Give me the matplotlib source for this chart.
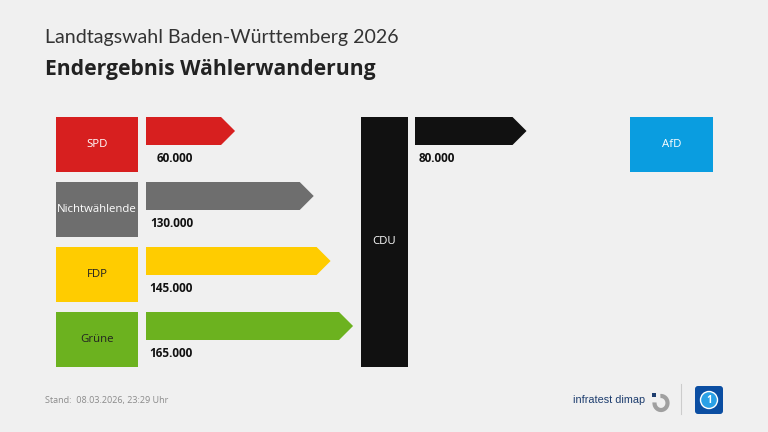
import matplotlib.pyplot as plt
from matplotlib.patches import Rectangle, Polygon, FancyBboxPatch, Arc, Circle

# Daten
quellen = ['SPD', 'Nichtwählende', 'FDP', 'Grüne']
werte = [60000, 130000, 145000, 165000]
farben = ['#d71f1f', '#6e6e6e', '#ffcc00', '#6cb21f']
textfarben = ['white', 'white', '#222222', '#222222']
wert_labels = ['60.000', '130.000', '145.000', '165.000']

ziel = 'CDU'
ziel2 = 'AfD'
wert_cdu_afd = 80000
label_cdu_afd = '80.000'

titel = 'Landtagswahl Baden-Württemberg 2026'
untertitel = 'Endergebnis Wählerwanderung'
stand = 'Stand:  08.03.2026, 23:29 Uhr'

plt.rcParams['font.family'] = ['Open Sans', 'DejaVu Sans']

BG = '#f0f0f0'
fig = plt.figure(figsize=(7.68, 4.32), dpi=100, facecolor=BG)
ax = fig.add_axes([0, 0, 1, 1])
ax.set_xlim(0, 768)
ax.set_ylim(432, 0)
ax.axis('off')
ax.set_facecolor(BG)


# Pfeillänge aus Wert (Pixel)
def pfeil_laenge(v):
    return 21.6 + 1.124 * v / 1000


def pfeil(x0, y0, laenge, hoehe, farbe, kopf=14):
    pts = [(x0, y0), (x0 + laenge - kopf, y0), (x0 + laenge, y0 + hoehe / 2),
           (x0 + laenge - kopf, y0 + hoehe), (x0, y0 + hoehe)]
    ax.add_patch(Polygon(pts, closed=True, facecolor=farbe, edgecolor='none'))


# Titel
ax.text(45, 37, titel, fontsize=14.1, color='#333333', va='center', ha='left',
        family=['Lato', 'DejaVu Sans'])
ax.text(45, 70, untertitel, fontsize=15.2, fontweight='bold', color='#222222',
        va='center', ha='left')

# Quellen links
box_x, box_w, box_h = 56, 82, 55
for i, (name, v, c, tc, lab) in enumerate(zip(quellen, werte, farben, textfarben, wert_labels)):
    y0 = 117 + i * 65
    ax.add_patch(Rectangle((box_x, y0), box_w, box_h, facecolor=c, edgecolor='none'))
    ax.text(box_x + box_w / 2, y0 + box_h / 2, name, fontsize=8.2, color=tc,
            ha='center', va='center')
    pfeil(146, y0, pfeil_laenge(v), 28, c)
    ax.text(193, y0 + 41.5, lab, fontsize=8.5, fontweight='bold', color='#111111',
            ha='right', va='center')

# CDU Balken
ax.add_patch(Rectangle((361, 117), 47, 250, facecolor='#111111', edgecolor='none'))
ax.text(384.5, 242, ziel, fontsize=8.2, color='white', ha='center', va='center')

# CDU -> AfD
pfeil(415, 117, pfeil_laenge(wert_cdu_afd), 28, '#111111')
ax.text(419, 158.5, label_cdu_afd, fontsize=8.5, fontweight='bold', color='#111111',
        ha='left', va='center')
ax.add_patch(Rectangle((630, 117), 83, 55, facecolor='#0a9de0', edgecolor='none'))
ax.text(671.5, 144.5, ziel2, fontsize=8.2, color='white', ha='center', va='center')

# Fußzeile
ax.text(45, 400, stand, fontsize=6.5, color='#8a8a8a', ha='left', va='center')
ax.text(645, 400, 'infratest dimap', fontsize=7.8, color='#1d3d6e', ha='right',
        va='center', family=['Liberation Sans', 'DejaVu Sans'])
ax.add_patch(Arc((661, 403), 13, 14, theta1=-95, theta2=185, color='#a0a0a0', lw=3))
ax.add_patch(Rectangle((651.5, 393), 4, 4, facecolor='#1d3d6e', edgecolor='none'))
ax.plot([681, 681], [384, 414], color='#cccccc', lw=0.8)
ax.add_patch(FancyBboxPatch((695, 386), 28, 28, boxstyle='round,pad=0,rounding_size=3',
                            facecolor='#0b4ea2', edgecolor='none'))
ax.add_patch(Circle((709, 400), 8.5, facecolor='#2aa0e6', edgecolor='white', lw=1))
ax.text(709, 400.5, '1', fontsize=7, fontweight='bold', color='white',
        ha='center', va='center')

fig.savefig('out.png', dpi=100, facecolor=BG)
